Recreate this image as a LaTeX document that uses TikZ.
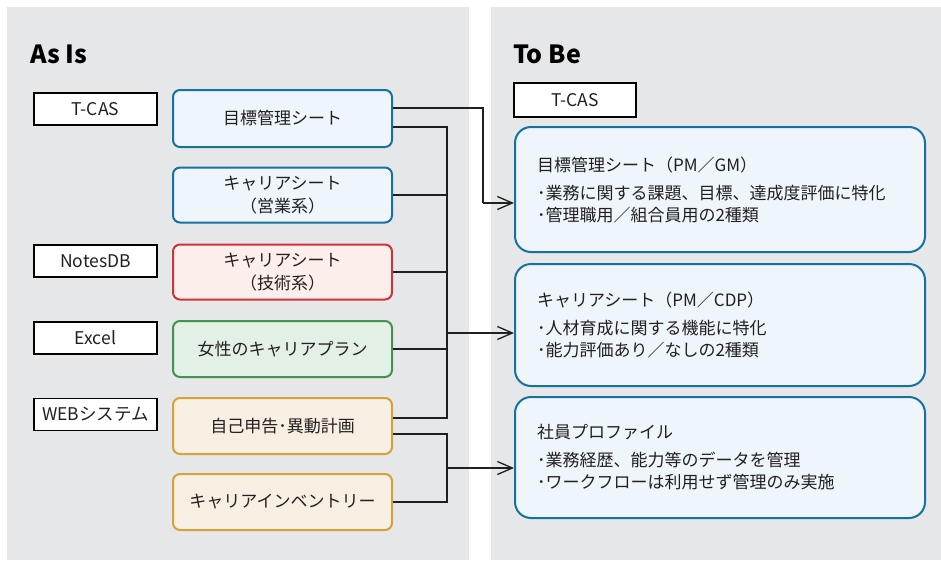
\documentclass[tikz,border=0pt]{standalone}
\usepackage{fontspec}
\setmainfont{Noto Sans CJK JP}
\usetikzlibrary{arrows.meta}
\definecolor{panelgrey}{RGB}{230,231,233}
\definecolor{txt}{RGB}{35,31,32}
\definecolor{bluebd}{RGB}{22,112,160}
\definecolor{bluefl}{RGB}{238,246,252}
\definecolor{redbd}{RGB}{208,50,58}
\definecolor{redfl}{RGB}{252,238,234}
\definecolor{greenbd}{RGB}{70,145,80}
\definecolor{greenfl}{RGB}{226,240,230}
\definecolor{orangebd}{RGB}{216,160,56}
\definecolor{orangefl}{RGB}{247,239,226}
\tikzset{
  panel/.style={fill=panelgrey, draw=none},
  heading/.style={anchor=west, inner sep=0pt, text=black, font=\fontsize{25}{28}\selectfont\bfseries},
  sysbox/.style={draw=black, line width=1.4pt, fill=white, minimum width=123pt, minimum height=32pt, inner sep=0pt, text=txt, font=\fontsize{17.5}{20}\selectfont},
  asisbox/.style={rounded corners=7pt, line width=2pt, minimum width=219pt, inner sep=0pt, align=center, text=txt, font=\fontsize{17}{23}\selectfont},
  bluebox/.style={asisbox, draw=bluebd, fill=bluefl},
  redbox/.style={asisbox, draw=redbd, fill=redfl},
  greenbox/.style={asisbox, draw=greenbd, fill=greenfl},
  orangebox/.style={asisbox, draw=orangebd, fill=orangefl},
  tobebox/.style={rounded corners=16pt, line width=2pt, draw=bluebd, fill=bluefl, minimum width=410pt, text width=366pt, inner xsep=22pt, inner ysep=0pt, align=left, text=txt, font=\fontsize{17}{22}\selectfont},
  conn/.style={line width=1.4pt, draw=black!88},
  arr/.style={conn, -{Straight Barb[length=15pt,width=13pt,line width=1.3pt]}},
}
\begin{document}
\begin{tikzpicture}[x=1pt,y=-1pt]
\useasboundingbox (0,0) rectangle (941,560);
\fill[white] (0,0) rectangle (941,560);
\fill[panel] (7,7) rectangle (469,560);
\fill[panel] (491,7) rectangle (941,560);

\node[heading] (asis) at (30,54) {As Is};
\node[heading] (tobe) at (513,54) {To Be};

% system labels
\node[sysbox] (s1) at (95.5,109) {T-CAS};
\node[sysbox] (s2) at (95.5,261) {NotesDB};
\node[sysbox] (s3) at (95.5,338) {Excel};
\node[sysbox] (s4) at (95.5,414.5) {WEBシステム};
\node[sysbox, minimum height=34pt, minimum width=122pt] (s5) at (575,100) {T-CAS};

% as-is boxes
\node[bluebox, minimum height=57pt] (L1) at (282.5,118.5) {目標管理シート};
\node[bluebox, minimum height=55pt] (L2) at (282.5,195) {キャリアシート\\（営業系）};
\node[redbox, minimum height=55pt] (L3) at (282.5,272) {キャリアシート\\（技術系）};
\node[greenbox, minimum height=56pt] (L4) at (282.5,349) {女性のキャリアプラン};
\node[orangebox, minimum height=56pt] (L5) at (282.5,426) {自己申告･異動計画};
\node[orangebox, minimum height=56pt] (L6) at (282.5,502) {キャリアインベントリー};

% to-be boxes
\node[tobebox, minimum height=125pt] (R1) at (720,189.5) {目標管理シート（PM／GM）\\[6pt]･業務に関する課題、目標、達成度評価に特化\\･管理職用／組合員用の2種類};
\node[tobebox, minimum height=122pt] (R2) at (720,325) {キャリアシート（PM／CDP）\\[6pt]･人材育成に関する機能に特化\\･能力評価あり／なしの2種類};
\node[tobebox, minimum height=121pt] (R3) at (720,457.5) {社員プロファイル\\[6pt]･業務経歴、能力等のデータを管理\\･ワークフローは利用せず管理のみ実施};

% junction coordinates
\coordinate (j1a) at (483,108);
\coordinate (j1b) at (483,203);
\coordinate (b1top) at (447,127);
\coordinate (b1bot) at (447,418);
\coordinate (b1out) at (447,333);
\coordinate (b2top) at (447,434);
\coordinate (b2bot) at (447,502);
\coordinate (b2out) at (447,468);

% connectors
\draw[conn] ([yshift=10.5pt]L1.east) -- (j1a) -- (j1b);
\draw[arr] (j1b) -- (R1.west |- j1b);

\draw[conn] ([yshift=-8.5pt]L1.east) -- (b1top) -- (b1bot) -- (L5.east |- b1bot);
\draw[conn] (L2.east) -- (L2.east -| b1top);
\draw[conn] (L3.east) -- (L3.east -| b1top);
\draw[conn] (L4.east) -- (L4.east -| b1top);
\draw[arr] (b1out) -- (R2.west |- b1out);

\draw[conn] ([yshift=-8pt]L5.east) -- (b2top) -- (b2bot) -- (L6.east);
\draw[arr] (b2out) -- (R3.west |- b2out);
\end{tikzpicture}
\end{document}
